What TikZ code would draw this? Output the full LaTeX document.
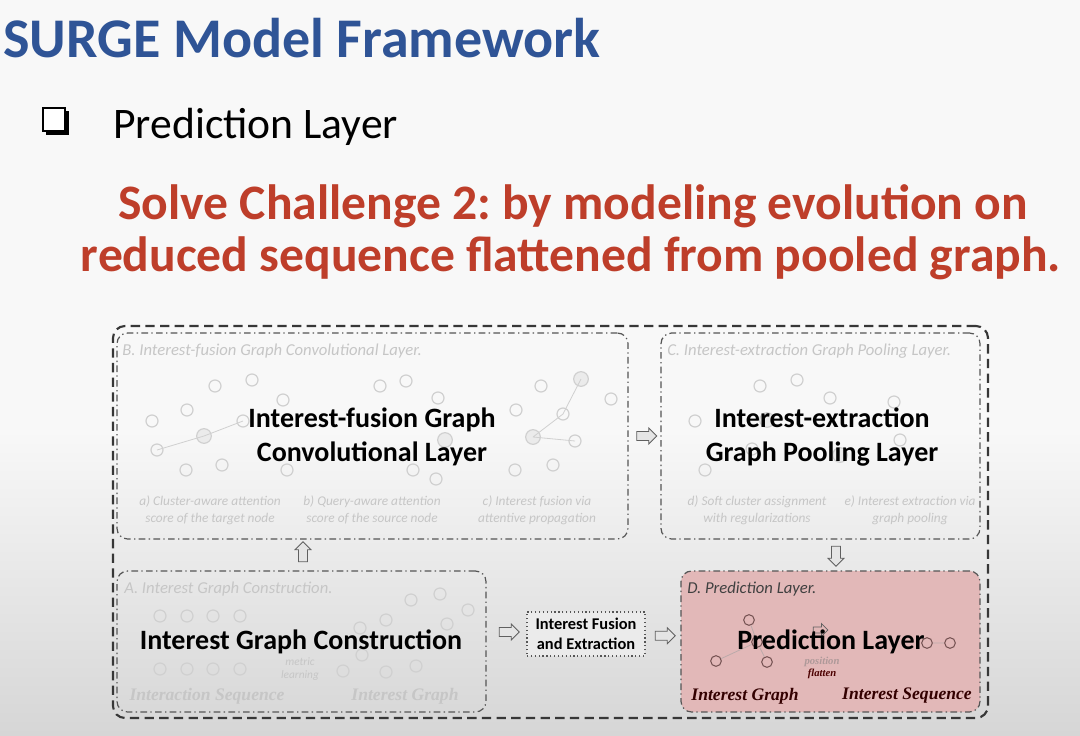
\documentclass[tikz,border=0pt]{standalone}
\usepackage{fontspec}
\setmainfont{Carlito}
\newfontfamily\capfont{Liberation Serif}
\usetikzlibrary{shapes.arrows,fit,calc}
\frenchspacing

\definecolor{titleblue}{RGB}{47,84,150}
\definecolor{chalred}{RGB}{190,62,42}
\definecolor{pinkfill}{RGB}{226,184,184}
\definecolor{faint}{RGB}{198,198,198}
\definecolor{faintdot}{RGB}{208,208,208}
\definecolor{boxline}{RGB}{55,55,55}
\definecolor{bgtop}{RGB}{248,248,248}
\definecolor{bgbot}{RGB}{214,214,214}
\definecolor{pinkdot}{RGB}{120,85,85}

\begin{document}
\begin{tikzpicture}[x=0.75pt,y=-0.75pt,
  outerbox/.style={draw=boxline, line width=1.6pt, dash pattern=on 7pt off 4pt, rounded corners=9pt, inner sep=0pt},
  layerbox/.style={draw=boxline!85, line width=0.9pt, dash pattern=on 5pt off 2.5pt on 1pt off 2.5pt, rounded corners=8pt, inner sep=0pt},
  fusebox/.style={draw=boxline!85, line width=0.9pt, dotted, fill=black!8, inner sep=0pt},
  bigtxt/.style={font=\fontsize{21}{25}\selectfont\bfseries, align=center, text=black, inner sep=0pt},
  faintlbl/.style={font=\fontsize{12.5}{14}\selectfont\itshape, text=faint, anchor=west, inner sep=0pt},
  capt/.style={font=\fontsize{10}{12.5}\selectfont\itshape, text=faint, align=center, inner sep=0pt},
  sercapt/.style={font=\capfont\fontsize{13.2}{15}\selectfont\bfseries\itshape, inner sep=0pt},
  blockarrow/.style={single arrow, draw=gray!75!black, fill=gray!20, line width=0.6pt, minimum height=15pt, minimum width=12pt, single arrow head extend=2.5pt, inner sep=2.8pt},
  fdot/.style={circle, draw=faintdot, line width=0.9pt, minimum size=9pt, inner sep=0pt},
  fdotf/.style={circle, draw=faintdot, fill=black!8, line width=0.9pt, minimum size=11pt, inner sep=0pt},
  pdot/.style={circle, draw=pinkdot, line width=0.8pt, minimum size=8pt, inner sep=0pt},
]
\useasboundingbox (0,0) rectangle (1080,735);
\fill[bgtop] (0,0) rectangle (1080,430);
\shade[top color=bgtop, bottom color=bgbot] (0,430) rectangle (1080,735);

% title and headings
\node[anchor=base west, inner sep=0pt, text=titleblue, font=\fontsize{42}{50}\selectfont\bfseries] (title) at (3,58) {SURGE Model Framework};
\fill[black] (46,111) rectangle (69,135);
\fill[white] (42,107) rectangle (65,131);
\draw[black, line width=1.6pt] (43,108) rectangle (65,131);
\node[anchor=base west, inner sep=0pt, font=\fontsize{32.7}{38}\selectfont] (sub) at (113,138) {Prediction Layer};
\node[anchor=base, inner sep=0pt, text=chalred, font=\fontsize{37.2}{42}\selectfont\bfseries] (red1) at (573,219) {Solve Challenge 2: by modeling evolution on};
\node[anchor=base, inner sep=0pt, text=chalred, font=\fontsize{37.2}{42}\selectfont\bfseries] (red2) at (571,271) {reduced sequence flattened from pooled graph.};

% faint graph decorations in B
\foreach \p in {(215,386),(252,380),(283,400),(187,410),(152,421),(243,421),(157,450),(186,470),(222,465),(380,386),(406,381),(438,398),(541,386),(611,399),(516,410),(563,414),(575,441),(553,465),(515,470),(436,479),(413,470),(287,470)}
  \node[fdot] at \p {};
\foreach \p in {(204,436),(581,379),(533,437),(445,440)}
  \node[fdotf] at \p {};
\draw[faintdot, line width=0.6pt] (157,450)--(204,436)--(243,421) (533,437)--(563,414)--(581,379) (575,441)--(533,437);
% faint graph decorations in C
\foreach \p in {(760,386),(797,380),(830,398),(695,421),(705,470),(752,449),(894,402),(900,440)}
  \node[fdot] at \p {};
\foreach \p in {(767,420),(840,455)}
  \node[fdotf] at \p {};
% faint graph decorations in A
\foreach \x in {160,187,213,240} {
  \node[fdot] at (\x,616) {};
  \node[fdot] at (\x,669) {};
}
\foreach \p in {(411,600),(440,594),(468,610),(447,624),(386,620),(360,628),(362,655),(343,671),(386,672),(416,666)}
  \node[fdot] at \p {};
\node[capt, font=\fontsize{8.5}{9.5}\selectfont\itshape] (ml) at (300,669) {metric\\learning};

% layer boxes
\node[outerbox, fit={(113,326) (988,718)}] (outer) {};
\node[layerbox, fit={(117,333) (628,539)}] (B) {};
\node[layerbox, fit={(661,333) (980,539)}] (C) {};
\node[layerbox, fit={(117,571) (486,712)}] (A) {};
\node[layerbox, fill=pinkfill, fit={(681,571) (980,712)}] (D) {};
\node[fusebox, fit={(527,612) (645,656)}] (F) {};

% faint labels
\node[faintlbl] (Blbl) at (122,351) {B. Interest-fusion Graph Convolutional Layer.};
\node[faintlbl] (Clbl) at (667,351) {C. Interest-extraction Graph Pooling Layer.};
\node[faintlbl] (Albl) at (124,589) {A. Interest Graph Construction.};
\node[faintlbl, text=black!75] (Dlbl) at (687,589) {D. Prediction Layer.};

\node[capt] (ca) at (210,510) {a) Cluster-aware attention\\score of the target node};
\node[capt] (cb) at (372,510) {b) Query-aware attention\\score of the source node};
\node[capt] (cc) at (537,510) {c) Interest fusion via\\attentive propagation};
\node[capt] (cd) at (757,510) {d) Soft cluster assignment\\with regularizations};
\node[capt] (ce) at (910,510) {e) Interest extraction via\\graph pooling};

\node[sercapt, text=faint] (cA1) at (207,696) {Interaction Sequence};
\node[sercapt, text=faint] (cA2) at (405,696) {Interest Graph};

% prediction layer small graph
\node[pdot] (p1) at (749,620) {};
\node[pdot] (p2) at (757,642) {};
\node[pdot] (p3) at (716,661) {};
\node[pdot] (p4) at (767,662) {};
\node[pdot] (p5) at (927,643) {};
\node[pdot] (p6) at (950,643) {};
\draw[pinkdot!50, line width=0.6pt] (p1)--(p2) (p2)--(p3) (p2)--(p4) (p5)--(p6);
\node[blockarrow, minimum height=11pt, minimum width=9pt, inner sep=2pt, fill=pinkfill] (parr) at (819,630) {};
\node[inner sep=0pt, align=center, text=black!70!red, font=\capfont\fontsize{8}{8.5}\selectfont\bfseries\itshape] (pflat) at (822,668) {{\color{pinkdot!60}position}\\flatten};
\node[sercapt, text=black!80!red] (cD1) at (745,696) {Interest Graph};
\node[sercapt, text=black!80!red] (cD2) at (907,696) {Interest Sequence};

% big titles
\node[bigtxt] (Bt) at (372,437) {Interest-fusion Graph\\Convolutional Layer};
\node[bigtxt] (Ct) at (822,437) {Interest-extraction\\Graph Pooling Layer};
\node[bigtxt] (At) at (301,642) {Interest Graph Construction};
\node[bigtxt] (Dt) at (831,642) {Prediction Layer};
\node[align=center, inner sep=0pt, font=\fontsize{12.3}{15}\selectfont\bfseries] (Ft) at (F.center) {Interest Fusion\\and Extraction};

% block arrows between stages
\node[blockarrow] (aBC) at ($(B.east)!0.5!(C.west)$) {};
\node[blockarrow, shape border rotate=90] (aAB) at (303,554) {};
\node[blockarrow, shape border rotate=270] (aCD) at (836,554) {};
\node[blockarrow] (aAF) at (507,632) {};
\node[blockarrow] (aFD) at ($(F.east)!0.5!(D.west)+(0,-2)$) {};
\end{tikzpicture}
\end{document}
